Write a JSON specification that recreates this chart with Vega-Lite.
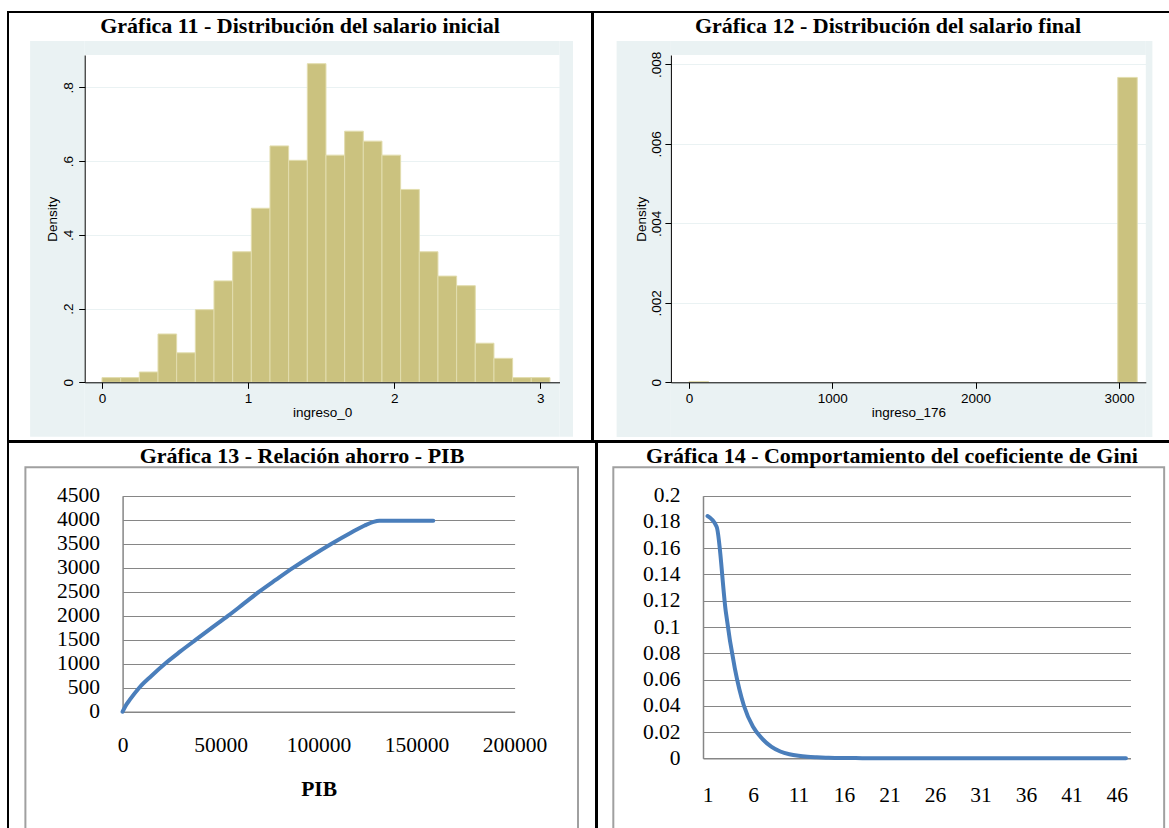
{
  "$schema": "https://vega.github.io/schema/vega-lite/v6.json",
  "description": "Four panels of a report page: two Stata histograms on top, two Excel line charts below, in a table grid.",
  "padding": {"left": 7, "top": 11, "right": 0, "bottom": 0},
  "background": "white",
  "datasets": {
    "ingreso0": [
      {"lo": 0, "hi": 0.1278, "density": 0.0127},
      {"lo": 0.1278, "hi": 0.2555, "density": 0.0127},
      {"lo": 0.2555, "hi": 0.3833, "density": 0.028},
      {"lo": 0.3833, "hi": 0.511, "density": 0.131},
      {"lo": 0.511, "hi": 0.6388, "density": 0.08},
      {"lo": 0.6388, "hi": 0.7665, "density": 0.197},
      {"lo": 0.7665, "hi": 0.8943, "density": 0.275},
      {"lo": 0.8943, "hi": 1.022, "density": 0.354},
      {"lo": 1.022, "hi": 1.1498, "density": 0.472},
      {"lo": 1.1498, "hi": 1.2775, "density": 0.641},
      {"lo": 1.2775, "hi": 1.4053, "density": 0.602},
      {"lo": 1.4053, "hi": 1.533, "density": 0.864},
      {"lo": 1.533, "hi": 1.6608, "density": 0.616},
      {"lo": 1.6608, "hi": 1.7885, "density": 0.681},
      {"lo": 1.7885, "hi": 1.9163, "density": 0.654},
      {"lo": 1.9163, "hi": 2.044, "density": 0.616},
      {"lo": 2.044, "hi": 2.1718, "density": 0.523},
      {"lo": 2.1718, "hi": 2.2995, "density": 0.354},
      {"lo": 2.2995, "hi": 2.4273, "density": 0.288},
      {"lo": 2.4273, "hi": 2.555, "density": 0.262},
      {"lo": 2.555, "hi": 2.6828, "density": 0.106},
      {"lo": 2.6828, "hi": 2.8105, "density": 0.065},
      {"lo": 2.8105, "hi": 2.9383, "density": 0.0127},
      {"lo": 2.9383, "hi": 3.066, "density": 0.0127}
    ],
    "ingreso176": [
      {"lo": 0, "hi": 136, "density": 0.00002},
      {"lo": 2992, "hi": 3128, "density": 0.00767}
    ],
    "ahorro": [
      {"PIB": 0, "ahorro": 0},
      {"PIB": 1500, "ahorro": 120},
      {"PIB": 3700, "ahorro": 250},
      {"PIB": 8500, "ahorro": 500},
      {"PIB": 14800, "ahorro": 750},
      {"PIB": 21600, "ahorro": 1000},
      {"PIB": 29300, "ahorro": 1250},
      {"PIB": 37400, "ahorro": 1500},
      {"PIB": 45600, "ahorro": 1750},
      {"PIB": 53900, "ahorro": 2000},
      {"PIB": 61800, "ahorro": 2250},
      {"PIB": 69700, "ahorro": 2500},
      {"PIB": 78300, "ahorro": 2750},
      {"PIB": 87100, "ahorro": 3000},
      {"PIB": 96600, "ahorro": 3250},
      {"PIB": 106600, "ahorro": 3500},
      {"PIB": 116500, "ahorro": 3730},
      {"PIB": 123500, "ahorro": 3880},
      {"PIB": 128000, "ahorro": 3955},
      {"PIB": 131000, "ahorro": 3978},
      {"PIB": 140000, "ahorro": 3980},
      {"PIB": 150000, "ahorro": 3980},
      {"PIB": 158500, "ahorro": 3980}
    ],
    "gini": [
      {"t": 1, "gini": 0.1845}, {"t": 2, "gini": 0.1764}, {"t": 3, "gini": 0.112},
      {"t": 4, "gini": 0.0685}, {"t": 5, "gini": 0.04}, {"t": 6, "gini": 0.024},
      {"t": 7, "gini": 0.015}, {"t": 8, "gini": 0.0089}, {"t": 9, "gini": 0.0052},
      {"t": 10, "gini": 0.0031}, {"t": 11, "gini": 0.0019}, {"t": 12, "gini": 0.0012},
      {"t": 13, "gini": 0.0008}, {"t": 14, "gini": 0.0005}, {"t": 15, "gini": 0.0003},
      {"t": 16, "gini": 0.0002}, {"t": 17, "gini": 0.00015}, {"t": 18, "gini": 0.0001},
      {"t": 19, "gini": 0.00008}, {"t": 20, "gini": 0.00006}, {"t": 21, "gini": 0.00005},
      {"t": 22, "gini": 0.00004}, {"t": 23, "gini": 0.00004}, {"t": 24, "gini": 0.00003},
      {"t": 25, "gini": 0.00003}, {"t": 26, "gini": 0.00003}, {"t": 27, "gini": 0.00002},
      {"t": 28, "gini": 0.00002}, {"t": 29, "gini": 0.00002}, {"t": 30, "gini": 0.00002},
      {"t": 31, "gini": 0.00002}, {"t": 32, "gini": 0.00001}, {"t": 33, "gini": 0.00001},
      {"t": 34, "gini": 0.00001}, {"t": 35, "gini": 0.00001}, {"t": 36, "gini": 0.00001},
      {"t": 37, "gini": 0.00001}, {"t": 38, "gini": 0.00001}, {"t": 39, "gini": 0.00001},
      {"t": 40, "gini": 0.00001}, {"t": 41, "gini": 0.00001}, {"t": 42, "gini": 0.00001},
      {"t": 43, "gini": 0.00001}, {"t": 44, "gini": 0.00001}, {"t": 45, "gini": 0.00001},
      {"t": 46, "gini": 0.00001}, {"t": 47, "gini": 0.00001}
    ]
  },
  "spacing": -2,
  "vconcat": [
    {
      "spacing": -2,
      "hconcat": [
        {
          "width": 584,
          "height": 429,
          "title": {"text": "Gráfica 11 - Distribución del salario inicial", "frame": "group", "offset": -26},
          "layer": [
            {
              "data": {"name": "ingreso0"},
              "mark": {"type": "rect", "fill": "#CBC27F", "stroke": "#E2DDAE", "strokeWidth": 1},
              "encoding": {
                "x": {
                  "field": "lo", "type": "quantitative",
                  "scale": {"domain": [-0.1184, 3.1314], "range": [76.7, 551.5], "nice": false, "zero": false},
                  "axis": {
                    "orient": "bottom", "offset": -58.7, "values": [0, 1, 2, 3], "format": "d", "grid": false, "tickCount": 20,
                    "tickSize": 6, "tickColor": "black", "domainColor": "black",
                    "labelFont": "Liberation Sans", "labelFontSize": 13.5, "labelColor": "black", "labelPadding": 3,
                    "labelFlush": false, "labelOverlap": false,
                    "title": "ingreso_0", "titleFont": "Liberation Sans", "titleFontSize": 13.5,
                    "titleFontWeight": "normal", "titleColor": "black", "titlePadding": 1, "zindex": 1
                  }
                },
                "x2": {"field": "hi"},
                "y": {
                  "field": "density", "type": "quantitative",
                  "scale": {"domain": [0, 0.8876], "range": [370.3, 43], "nice": false, "zero": false},
                  "axis": {
                    "orient": "left", "values": [0.2, 0.4, 0.6, 0.8], "grid": true, "gridColor": "#EAF2F3", "tickCount": 20,
                    "domain": false, "ticks": false, "labels": false, "title": null, "zindex": 0
                  }
                },
                "y2": {"datum": 0}
              }
            },
            {
              "data": {"values": [{}]},
              "mark": {"type": "rect", "fill": "#EAF2F3"},
              "encoding": {
                "x": {"datum": -0.4921, "type": "quantitative", "axis": null},
                "x2": {"datum": -0.1184},
                "y": {
                  "datum": -0.1475, "type": "quantitative",
                  "axis": {
                    "orient": "left", "offset": -76.7, "values": [0, 0.2, 0.4, 0.6, 0.8], "grid": false, "tickCount": 20,
                    "labelExpr": "datum.value == 0 ? '0' : substring(format(datum.value, '.1f'), 1)",
                    "labelAngle": -90, "labelAlign": "center", "labelBaseline": "bottom",
                    "labelFont": "Liberation Sans", "labelFontSize": 13.5, "labelColor": "black", "labelPadding": 3,
                    "labelFlush": false, "labelOverlap": false,
                    "tickSize": 6, "tickColor": "black", "domainColor": "black",
                    "title": "Density", "titleFont": "Liberation Sans", "titleFontSize": 13.5,
                    "titleFontWeight": "normal", "titleColor": "black", "titlePadding": 2, "zindex": 1
                  }
                },
                "y2": {"datum": 0.9256}
              }
            },
            {
              "data": {"values": [{}]},
              "mark": {"type": "rect", "fill": "#EAF2F3"},
              "encoding": {
                "x": {"datum": 3.1314, "type": "quantitative", "axis": null},
                "x2": {"datum": 3.2238},
                "y": {"datum": -0.1475, "type": "quantitative", "axis": null},
                "y2": {"datum": 0.9256}
              }
            },
            {
              "data": {"values": [{}]},
              "mark": {"type": "rect", "fill": "#EAF2F3"},
              "encoding": {
                "x": {"datum": -0.1184, "type": "quantitative", "axis": null},
                "x2": {"datum": 3.1314},
                "y": {"datum": 0.8876, "type": "quantitative", "axis": null},
                "y2": {"datum": 0.9256}
              }
            },
            {
              "data": {"values": [{}]},
              "mark": {"type": "rect", "fill": "#EAF2F3"},
              "encoding": {
                "x": {"datum": -0.1184, "type": "quantitative", "axis": null},
                "x2": {"datum": 3.1314},
                "y": {"datum": -0.1475, "type": "quantitative", "axis": null},
                "y2": {"datum": 0}
              }
            }
          ],
          "resolve": {"axis": {"x": "independent", "y": "independent"}}
        },
        {
          "width": 590,
          "height": 429,
          "title": {"text": "Gráfica 12 - Distribución del salario final", "frame": "group", "offset": -26},
          "layer": [
            {
              "data": {"name": "ingreso176"},
              "mark": {"type": "rect", "fill": "#CBC27F", "stroke": "#E2DDAE", "strokeWidth": 1},
              "encoding": {
                "x": {
                  "field": "lo", "type": "quantitative",
                  "scale": {"domain": [-126.3, 3187.7], "range": [77.9, 552.8], "nice": false, "zero": false},
                  "axis": {
                    "orient": "bottom", "offset": -58.7, "values": [0, 1000, 2000, 3000], "format": "d", "grid": false, "tickCount": 20,
                    "tickSize": 6, "tickColor": "black", "domainColor": "black",
                    "labelFont": "Liberation Sans", "labelFontSize": 13.5, "labelColor": "black", "labelPadding": 3,
                    "labelFlush": false, "labelOverlap": false,
                    "title": "ingreso_176", "titleFont": "Liberation Sans", "titleFontSize": 13.5,
                    "titleFontWeight": "normal", "titleColor": "black", "titlePadding": 1, "zindex": 1
                  }
                },
                "x2": {"field": "hi"},
                "y": {
                  "field": "density", "type": "quantitative",
                  "scale": {"domain": [0, 0.008234], "range": [370.3, 43], "nice": false, "zero": false},
                  "axis": {
                    "orient": "left", "values": [0.002, 0.004, 0.006, 0.008], "grid": true, "gridColor": "#EAF2F3", "tickCount": 20,
                    "domain": false, "ticks": false, "labels": false, "title": null, "zindex": 0
                  }
                },
                "y2": {"datum": 0}
              }
            },
            {
              "data": {"values": [{}]},
              "mark": {"type": "rect", "fill": "#EAF2F3"},
              "encoding": {
                "x": {"datum": -505.2, "type": "quantitative", "axis": null},
                "x2": {"datum": -126.3},
                "y": {
                  "datum": -0.001376, "type": "quantitative",
                  "axis": {
                    "orient": "left", "offset": -77.9, "values": [0, 0.002, 0.004, 0.006, 0.008], "grid": false, "tickCount": 20,
                    "labelExpr": "datum.value == 0 ? '0' : substring(format(datum.value, '.3f'), 1)",
                    "labelAngle": -90, "labelAlign": "center", "labelBaseline": "bottom",
                    "labelFont": "Liberation Sans", "labelFontSize": 13.5, "labelColor": "black", "labelPadding": 1,
                    "labelFlush": false, "labelOverlap": false,
                    "tickSize": 6, "tickColor": "black", "domainColor": "black",
                    "title": "Density", "titleFont": "Liberation Sans", "titleFontSize": 13.5,
                    "titleFontWeight": "normal", "titleColor": "black", "titlePadding": 1, "zindex": 1
                  }
                },
                "y2": {"datum": 0.008586}
              }
            },
            {
              "data": {"values": [{}]},
              "mark": {"type": "rect", "fill": "#EAF2F3"},
              "encoding": {
                "x": {"datum": 3187.7, "type": "quantitative", "axis": null},
                "x2": {"datum": 3233.8},
                "y": {"datum": -0.001376, "type": "quantitative", "axis": null},
                "y2": {"datum": 0.008586}
              }
            },
            {
              "data": {"values": [{}]},
              "mark": {"type": "rect", "fill": "#EAF2F3"},
              "encoding": {
                "x": {"datum": -126.3, "type": "quantitative", "axis": null},
                "x2": {"datum": 3187.7},
                "y": {"datum": 0.008234, "type": "quantitative", "axis": null},
                "y2": {"datum": 0.008586}
              }
            },
            {
              "data": {"values": [{}]},
              "mark": {"type": "rect", "fill": "#EAF2F3"},
              "encoding": {
                "x": {"datum": -126.3, "type": "quantitative", "axis": null},
                "x2": {"datum": 3187.7},
                "y": {"datum": -0.001376, "type": "quantitative", "axis": null},
                "y2": {"datum": 0}
              }
            }
          ],
          "resolve": {"axis": {"x": "independent", "y": "independent"}}
        }
      ]
    },
    {
      "spacing": -2,
      "hconcat": [
        {
          "width": 588,
          "height": 400,
          "title": {"text": "Gráfica 13 - Relación ahorro - PIB", "frame": "group", "offset": -26},
          "layer": [
            {
              "data": {"values": [{}]},
              "mark": {"type": "rect", "fill": null, "stroke": "#A0A0A0", "strokeWidth": 2},
              "encoding": {
                "x": {"datum": -49592, "type": "quantitative"},
                "x2": {"datum": 232347},
                "y": {"datum": 5091.7, "type": "quantitative"},
                "y2": {"datum": -3131}
              }
            },
            {
              "data": {"name": "ahorro"},
              "mark": {"type": "line", "color": "#4A7EBB", "strokeWidth": 4, "strokeCap": "round", "interpolate": "monotone"},
              "encoding": {
                "x": {
                  "field": "PIB", "type": "quantitative",
                  "scale": {"domain": [0, 200000], "range": [114.6, 506.6], "nice": false, "zero": false},
                  "axis": {
                    "orient": "bottom", "offset": -130.3, "values": [0, 50000, 100000, 150000, 200000], "format": "d", "tickCount": 20,
                    "grid": false, "ticks": false, "tickSize": 0, "domainColor": "#868686", "domainWidth": 1.5,
                    "labelFont": "Liberation Serif", "labelFontSize": 21.5, "labelColor": "black", "labelPadding": 23,
                    "labelFlush": false, "labelOverlap": false,
                    "title": "PIB", "titleFont": "Liberation Serif", "titleFontSize": 21.5, "titleFontWeight": "bold",
                    "titleColor": "black", "titlePadding": 22
                  }
                },
                "y": {
                  "field": "ahorro", "type": "quantitative",
                  "scale": {"domain": [0, 4500], "range": [269.7, 53.7], "nice": false, "zero": false},
                  "axis": {
                    "orient": "left", "offset": -114.6, "values": [0, 500, 1000, 1500, 2000, 2500, 3000, 3500, 4000, 4500], "tickCount": 20,
                    "format": "d", "grid": true, "gridColor": "#868686", "gridWidth": 1.2,
                    "ticks": false, "tickSize": 0, "domainColor": "#868686", "domainWidth": 1.5,
                    "labelFont": "Liberation Serif", "labelFontSize": 21.5, "labelColor": "black", "labelPadding": 23,
                    "labelFlush": false, "labelOverlap": false, "title": null
                  }
                }
              }
            }
          ]
        },
        {
          "width": 590,
          "height": 400,
          "title": {"text": "Gráfica 14 - Comportamiento del coeficiente de Gini", "frame": "group", "offset": -26},
          "layer": [
            {
              "data": {"values": [{}]},
              "mark": {"type": "rect", "fill": null, "stroke": "#A0A0A0", "strokeWidth": 2},
              "encoding": {
                "x": {"datum": -9.36, "type": "quantitative"},
                "x2": {"datum": 51.2},
                "y": {"datum": 0.2216, "type": "quantitative"},
                "y2": {"datum": -0.079}
              }
            },
            {
              "data": {"name": "gini"},
              "mark": {"type": "line", "color": "#4A7EBB", "strokeWidth": 4, "strokeCap": "round", "interpolate": "monotone"},
              "encoding": {
                "x": {
                  "field": "t", "type": "quantitative",
                  "scale": {"domain": [0.5, 47.5], "range": [106, 533.5], "nice": false, "zero": false},
                  "axis": {
                    "orient": "bottom", "offset": -83.7, "values": [1, 6, 11, 16, 21, 26, 31, 36, 41, 46], "format": "d", "tickCount": 20,
                    "grid": false, "ticks": false, "tickSize": 0, "domainColor": "#868686", "domainWidth": 1.5,
                    "labelFont": "Liberation Serif", "labelFontSize": 21.5, "labelColor": "black", "labelPadding": 26,
                    "labelFlush": false, "labelOverlap": false, "title": null
                  }
                },
                "y": {
                  "field": "gini", "type": "quantitative",
                  "scale": {"domain": [0, 0.2], "range": [316.3, 53.7], "nice": false, "zero": false},
                  "axis": {
                    "orient": "left", "offset": -106, "values": [0, 0.02, 0.04, 0.06, 0.08, 0.1, 0.12, 0.14, 0.16, 0.18, 0.2], "tickCount": 20,
                    "format": "~g", "grid": true, "gridColor": "#868686", "gridWidth": 1.2,
                    "ticks": false, "tickSize": 0, "domainColor": "#868686", "domainWidth": 1.5,
                    "labelFont": "Liberation Serif", "labelFontSize": 21.5, "labelColor": "black", "labelPadding": 23,
                    "labelFlush": false, "labelOverlap": false, "title": null
                  }
                }
              }
            }
          ]
        }
      ]
    }
  ],
  "config": {
    "view": {"stroke": "black", "strokeWidth": 2, "fill": "white"},
    "title": {"font": "Liberation Serif", "fontSize": 22, "fontWeight": "bold", "color": "black", "anchor": "middle"}
  }
}
